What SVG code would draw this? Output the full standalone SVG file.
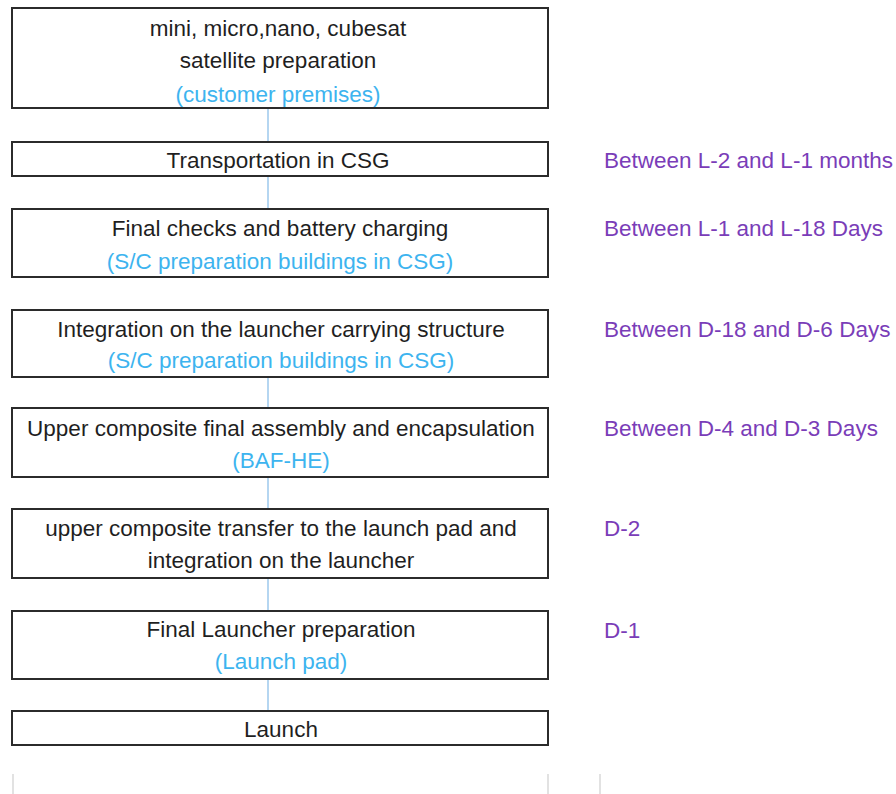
<svg xmlns="http://www.w3.org/2000/svg" width="896" height="794" viewBox="0 0 896 794">
<style>
.box{fill:#fff;stroke:#2b2b2b;stroke-width:2}
.t{font-family:"Liberation Sans",Arial,sans-serif;font-size:22.5px;fill:#1f1f1f;text-anchor:middle}
.b{fill:#3db4ef}
.p{font-family:"Liberation Sans",Arial,sans-serif;font-size:22.5px;fill:#7a3db8}
.c{stroke:#9cc8ec;stroke-width:1.5}
.g{stroke:#d9d9d9;stroke-width:1.5}
</style>
<rect width="896" height="794" fill="#fff"/>
<g id="connectors">
<line class="c" x1="268" y1="108" x2="268" y2="142"/>
<line class="c" x1="268" y1="176" x2="268" y2="209"/>
<line class="c" x1="268" y1="377" x2="268" y2="408"/>
<line class="c" x1="268" y1="477" x2="268" y2="509"/>
<line class="c" x1="268" y1="578" x2="268" y2="611"/>
<line class="c" x1="268" y1="679" x2="268" y2="711"/>
</g>
<g id="n1"><rect class="box" x="12" y="8" width="536" height="100"/>
<text class="t" x="278" y="36">mini, micro,nano, cubesat</text>
<text class="t" x="278" y="68">satellite preparation</text>
<text class="t b" x="278" y="102">(customer premises)</text></g>
<g id="n2"><rect class="box" x="12" y="142" width="536" height="34"/>
<text class="t" x="278" y="168">Transportation in CSG</text></g>
<g id="n3"><rect class="box" x="12" y="209" width="536" height="68"/>
<text class="t" x="280" y="236">Final checks and battery charging</text>
<text class="t b" x="280" y="269">(S/C preparation buildings in CSG)</text></g>
<g id="n4"><rect class="box" x="12" y="310" width="536" height="67"/>
<text class="t" x="281" y="337">Integration on the launcher carrying structure</text>
<text class="t b" x="281" y="368">(S/C preparation buildings in CSG)</text></g>
<g id="n5"><rect class="box" x="12" y="408" width="536" height="69"/>
<text class="t" x="281" y="436">Upper composite final assembly and encapsulation</text>
<text class="t b" x="281" y="468">(BAF-HE)</text></g>
<g id="n6"><rect class="box" x="12" y="509" width="536" height="69"/>
<text class="t" x="281" y="536">upper composite transfer to the launch pad and</text>
<text class="t" x="281" y="568">integration on the launcher</text></g>
<g id="n7"><rect class="box" x="12" y="611" width="536" height="68"/>
<text class="t" x="281" y="637">Final Launcher preparation</text>
<text class="t b" x="281" y="669">(Launch pad)</text></g>
<g id="n8"><rect class="box" x="12" y="711" width="536" height="34"/>
<text class="t" x="281" y="737">Launch</text></g>
<g id="labels">
<text class="p" x="604" y="168">Between L-2 and L-1 months</text>
<text class="p" x="604" y="236">Between L-1 and L-18 Days</text>
<text class="p" x="604" y="337">Between D-18 and D-6 Days</text>
<text class="p" x="604" y="436">Between D-4 and D-3 Days</text>
<text class="p" x="604" y="536">D-2</text>
<text class="p" x="604" y="638">D-1</text>
</g>
<g id="bottom-marks">
<line class="g" x1="13" y1="774" x2="13" y2="794"/>
<line class="g" x1="548" y1="774" x2="548" y2="794"/>
<line class="g" x1="600" y1="774" x2="600" y2="794"/>
</g>
</svg>
